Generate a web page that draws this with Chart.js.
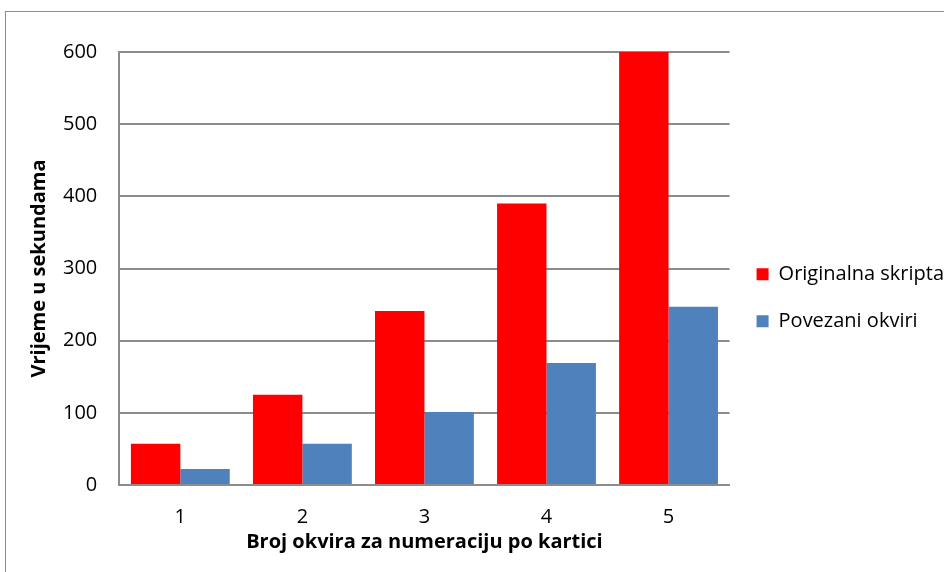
<!DOCTYPE html>
<html>
<head>
<meta charset="utf-8">
<script src="https://cdn.jsdelivr.net/npm/chart.js@4.4.0/dist/chart.umd.min.js"></script>
<style>
  html, body { margin: 0; padding: 0; background: #fff; overflow: hidden; }
  #frame {
    position: absolute; left: 5px; top: 11px; width: 1200px; height: 900px;
    border-left: 1.5px solid #8c8c8c; border-top: 1.5px solid #8c8c8c;
  }
  #wrap { position: absolute; left: 0; top: 0; width: 944px; height: 572px; }
</style>
</head>
<body>
<div id="frame"></div>
<div id="wrap"><canvas id="myChart" width="944" height="572"></canvas></div>
<script>
const categories = ["1", "2", "3", "4", "5"];
const originalnaSkripta = [57, 125, 241, 390, 600];
const povezaniOkviri = [22, 57, 101, 169, 247];
const yTicks = [0, 100, 200, 300, 400, 500, 600];

const fontFamily = "'Open Sans', 'Noto Sans', sans-serif";
const gridColor = "#8c8c8c";

new Chart(document.getElementById("myChart"), {
  type: "bar",
  data: {
    labels: categories,
    datasets: [
      {
        label: "Originalna skripta",
        data: originalnaSkripta,
        backgroundColor: "#ff0000",
        borderWidth: 0,
        categoryPercentage: 0.81,
        barPercentage: 1.0,
      },
      {
        label: "Povezani okviri",
        data: povezaniOkviri,
        backgroundColor: "#4f81bd",
        borderWidth: 0,
        categoryPercentage: 0.81,
        barPercentage: 1.0,
      },
    ],
  },
  options: {
    responsive: false,
    animation: false,
    layout: {
      padding: { left: 27, top: 52, right: -10, bottom: 18 },
    },
    plugins: {
      legend: {
        position: "right",
        fullSize: false,
        labels: {
          boxWidth: 12,
          boxHeight: 12,
          padding: 27,
          color: "#000",
          font: { family: fontFamily, size: 20 },
        },
        // empty title only pushes the legend items a bit lower
        title: {
          display: true,
          text: " ",
          padding: 18.5,
          font: { size: 18 },
        },
      },
      tooltip: { enabled: false },
    },
    scales: {
      x: {
        grid: { display: false, drawTicks: false },
        border: { color: gridColor, width: 2 },
        ticks: {
          color: "#000",
          padding: 20,
          font: { family: fontFamily, size: 20 },
        },
        title: {
          display: true,
          text: "Broj okvira za numeraciju po kartici",
          color: "#000",
          padding: { top: -19, bottom: 0 },
          font: { family: fontFamily, size: 20, weight: "bold" },
        },
      },
      y: {
        min: 0,
        max: 600,
        afterBuildTicks: (axis) => {
          axis.ticks = yTicks.map((v) => ({ value: v }));
        },
        grid: { color: gridColor, lineWidth: 2, drawTicks: false },
        border: { color: gridColor, width: 2 },
        ticks: {
          color: "#000",
          padding: 22,
          font: { family: fontFamily, size: 20 },
        },
        title: {
          display: true,
          text: "Vrijeme u sekundama",
          color: "#000",
          padding: { top: 0, bottom: -10 },
          font: { family: fontFamily, size: 20, weight: "bold" },
        },
      },
    },
  },
});
</script>
</body>
</html>
